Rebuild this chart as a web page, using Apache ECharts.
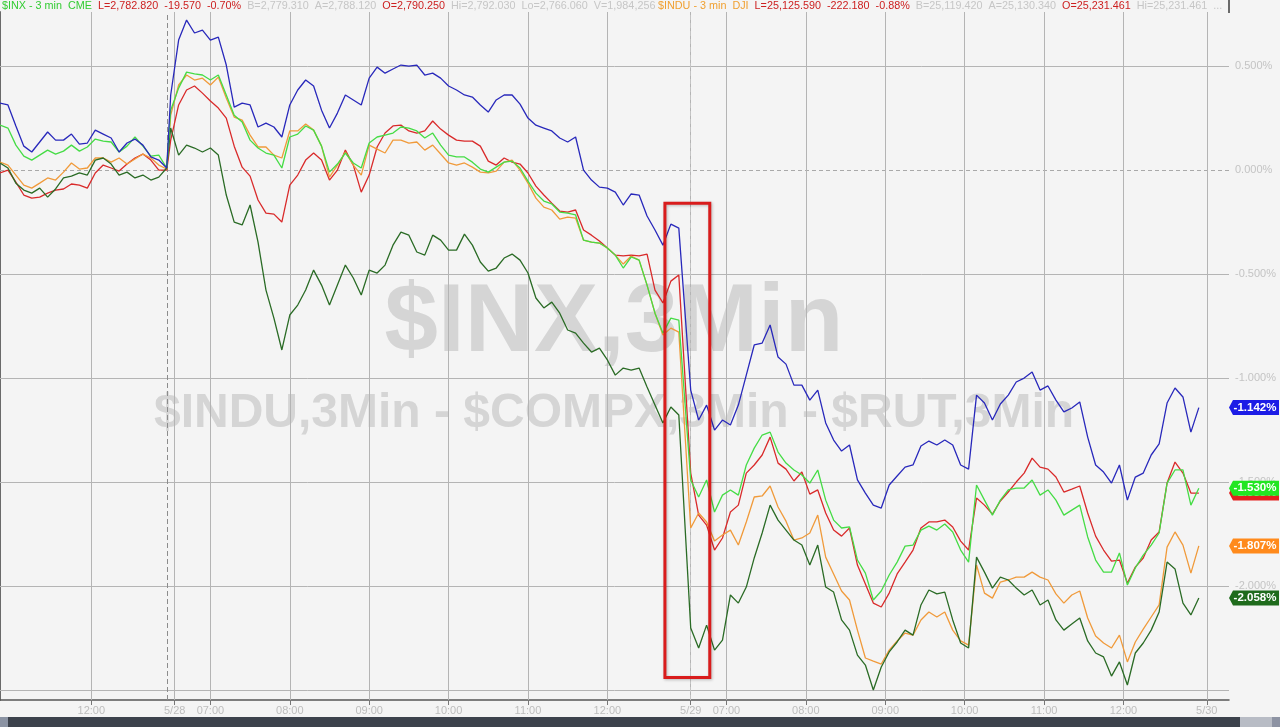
<!DOCTYPE html>
<html>
<head>
<meta charset="utf-8">
<script src="https://cdn.jsdelivr.net/npm/echarts@6/dist/echarts.min.js"></script>
<style>
html,body{margin:0;padding:0;background:#f4f4f4;overflow:hidden;}
#c{width:1280px;height:727px;}
</style>
</head>
<body>
<div id="c"></div>
<script>
// ---------- time structure (3-minute bars) ----------
// segment starts in bar numbers: prior-day tail, 5/28 session, 5/29 session
const segmentStartBars = [0, 43, 174];
const segmentSampleCounts = [22, 65, 65];
const sampleStepBars = 2;

// x-axis tick marks (bar numbers) and their labels
const tickBars   = [23, 44, 53, 73, 93, 113, 133, 153, 174, 183, 203, 223, 243, 263, 283, 304];
const tickLabels = ['12:00','5/28','07:00','08:00','09:00','10:00','11:00','12:00','5/29','07:00','08:00','09:00','10:00','11:00','12:00','5/30'];
const sessionOpenBars = [43, 174];

// y-axis ticks (percent)
const yTickValues  = [0.5, 0, -0.5, -1, -1.5, -2, -2.5];
const yLabelValues = [0.5, 0, -0.5, -1, -1.5, -2];

// ---------- series (% change) ----------
const compxPct = [ // blue
 0.322,0.313,0.212,0.115,0.087,0.135,0.183,0.144,0.144,0.173,0.125,0.130,0.192,0.173,0.154,0.087,0.130,0.149,0.120,0.063,0.048,0.010,
 0.361,0.625,0.721,0.659,0.673,0.625,0.639,0.505,0.303,0.322,0.313,0.207,0.226,0.207,0.159,0.313,0.385,0.433,0.404,0.288,0.202,0.274,0.361,0.337,0.313,0.442,0.495,0.466,0.486,0.505,0.500,0.505,0.457,0.466,0.442,0.404,0.385,0.361,0.351,0.313,0.279,0.337,0.361,0.361,0.317,0.250,0.216,0.202,0.188,0.154,0.135,0.159,0,-0.048,-0.082,-0.087,-0.106,-0.168,-0.115,-0.120,-0.221,-0.288,-0.361,-0.260,-0.279,
 -1.058,-1.202,-1.130,-1.250,-1.202,-1.226,-1.130,-0.986,-0.841,-0.832,-0.745,-0.899,-0.933,-1.034,-1.034,-1.106,-1.058,-1.216,-1.298,-1.351,-1.322,-1.490,-1.553,-1.611,-1.625,-1.514,-1.471,-1.428,-1.418,-1.327,-1.303,-1.322,-1.298,-1.322,-1.418,-1.438,-1.082,-1.120,-1.202,-1.125,-1.082,-1.019,-1.000,-0.971,-1.058,-1.038,-1.106,-1.163,-1.144,-1.115,-1.284,-1.418,-1.452,-1.505,-1.418,-1.587,-1.476,-1.457,-1.370,-1.317,-1.120,-1.048,-1.091,-1.260,-1.142
];
const spxPct = [ // light green
 0.216,0.202,0.120,0.067,0.048,0.072,0.096,0.077,0.091,0.120,0.091,0.111,0.149,0.139,0.135,0.087,0.115,0.159,0.115,0.067,0.072,0.010,
 0.288,0.394,0.471,0.462,0.457,0.433,0.457,0.361,0.264,0.231,0.144,0.106,0.082,0.072,0.010,0.159,0.173,0.212,0.192,0.115,-0.010,0.029,0.082,0.034,0.010,0.130,0.159,0.168,0.178,0.207,0.202,0.188,0.154,0.178,0.120,0.072,0.063,0.063,0.038,0.005,-0.010,0.014,0.038,0.043,0.010,-0.053,-0.111,-0.149,-0.163,-0.202,-0.207,-0.216,-0.337,-0.346,-0.351,-0.375,-0.409,-0.471,-0.418,-0.433,-0.553,-0.688,-0.784,-0.712,-0.721,
 -1.490,-1.572,-1.490,-1.644,-1.563,-1.538,-1.563,-1.418,-1.337,-1.274,-1.260,-1.356,-1.409,-1.442,-1.466,-1.505,-1.442,-1.587,-1.683,-1.721,-1.716,-1.875,-1.938,-2.067,-2.024,-1.947,-1.885,-1.808,-1.803,-1.731,-1.712,-1.731,-1.702,-1.740,-1.827,-1.885,-1.514,-1.587,-1.659,-1.587,-1.538,-1.529,-1.529,-1.490,-1.563,-1.538,-1.587,-1.659,-1.635,-1.611,-1.764,-1.875,-1.933,-1.933,-1.841,-1.995,-1.913,-1.851,-1.803,-1.745,-1.505,-1.442,-1.442,-1.611,-1.530
];
const induPct = [ // orange
 0.038,0.024,-0.024,-0.072,-0.087,-0.063,-0.038,-0.048,-0.010,0.034,0.005,0.010,0.058,0.058,0.038,0.058,0.029,0.053,0.077,0.058,0.024,0.005,
 0.264,0.409,0.457,0.433,0.442,0.409,0.447,0.346,0.255,0.240,0.168,0.111,0.111,0.072,0.058,0.188,0.188,0.221,0.192,0.115,-0.034,0.024,0.087,0.024,-0.024,0.120,0.101,0.082,0.144,0.144,0.130,0.135,0.096,0.120,0.077,0.034,0.024,0.034,0.014,-0.010,-0.014,-0.005,0.038,0.048,0,-0.063,-0.135,-0.178,-0.192,-0.236,-0.226,-0.231,-0.337,-0.346,-0.351,-0.375,-0.409,-0.452,-0.413,-0.433,-0.553,-0.688,-0.793,-0.760,-0.779,
 -1.721,-1.649,-1.692,-1.784,-1.755,-1.731,-1.803,-1.692,-1.572,-1.567,-1.519,-1.620,-1.688,-1.779,-1.769,-1.745,-1.659,-1.861,-1.942,-2.024,-2.067,-2.212,-2.346,-2.361,-2.375,-2.308,-2.264,-2.226,-2.236,-2.163,-2.125,-2.149,-2.125,-2.212,-2.264,-2.284,-1.899,-2.034,-2.058,-1.981,-1.971,-1.957,-1.957,-1.933,-1.957,-1.971,-2.038,-2.082,-2.043,-2.024,-2.154,-2.240,-2.274,-2.298,-2.236,-2.365,-2.269,-2.207,-2.149,-2.091,-1.813,-1.740,-1.803,-1.938,-1.807
];
const redPct = [ // red
 -0.014,0,-0.058,-0.120,-0.135,-0.130,-0.111,-0.096,-0.091,-0.067,-0.072,-0.087,-0.014,0.024,0.010,-0.005,0.029,0.058,0.077,0.048,0,0,
 0.144,0.313,0.385,0.404,0.370,0.332,0.298,0.250,0.115,0.014,-0.029,-0.144,-0.207,-0.212,-0.250,-0.072,-0.024,0.048,0.082,0.048,-0.048,0,0.096,0.024,-0.106,-0.024,0.111,0.178,0.212,0.216,0.188,0.178,0.188,0.236,0.197,0.168,0.144,0.139,0.139,0.115,0.043,0.024,0.058,0.038,0.029,-0.014,-0.077,-0.120,-0.159,-0.197,-0.202,-0.192,-0.288,-0.313,-0.341,-0.375,-0.409,-0.413,-0.409,-0.413,-0.404,-0.577,-0.639,-0.534,-0.505,
 -1.457,-1.659,-1.707,-1.827,-1.769,-1.644,-1.611,-1.457,-1.418,-1.370,-1.284,-1.409,-1.438,-1.495,-1.452,-1.558,-1.538,-1.649,-1.731,-1.760,-1.721,-1.899,-1.990,-2.082,-2.101,-2.034,-1.942,-1.885,-1.827,-1.721,-1.692,-1.692,-1.683,-1.716,-1.784,-1.827,-1.577,-1.611,-1.654,-1.591,-1.548,-1.500,-1.457,-1.385,-1.428,-1.438,-1.476,-1.548,-1.534,-1.519,-1.649,-1.760,-1.827,-1.880,-1.875,-1.986,-1.909,-1.865,-1.779,-1.740,-1.505,-1.404,-1.457,-1.553,-1.553
];
const rutPct = [ // dark green
 0.034,0.010,-0.063,-0.096,-0.111,-0.087,-0.130,-0.091,-0.038,-0.029,-0.014,-0.024,0.048,0.058,0.029,-0.024,-0.010,-0.038,-0.024,-0.048,-0.034,0.010,
 0.202,0.072,0.120,0.106,0.087,0.106,0.072,-0.120,-0.250,-0.264,-0.168,-0.346,-0.577,-0.712,-0.865,-0.697,-0.649,-0.577,-0.481,-0.553,-0.649,-0.553,-0.457,-0.519,-0.601,-0.481,-0.495,-0.457,-0.361,-0.298,-0.313,-0.394,-0.409,-0.313,-0.337,-0.385,-0.385,-0.308,-0.361,-0.442,-0.486,-0.471,-0.423,-0.404,-0.433,-0.495,-0.615,-0.663,-0.635,-0.688,-0.769,-0.784,-0.832,-0.875,-0.856,-0.913,-0.986,-0.952,-0.962,-0.952,-1.043,-1.130,-1.216,-1.139,-1.178,
 -2.202,-2.298,-2.188,-2.308,-2.260,-2.043,-2.082,-2.005,-1.865,-1.745,-1.611,-1.683,-1.731,-1.779,-1.803,-1.899,-1.803,-2.005,-2.029,-2.163,-2.212,-2.332,-2.380,-2.500,-2.389,-2.317,-2.269,-2.212,-2.236,-2.091,-2.019,-2.038,-2.029,-2.163,-2.274,-2.298,-1.861,-1.933,-2.010,-1.957,-1.971,-2.010,-2.043,-2.019,-2.091,-2.067,-2.163,-2.212,-2.183,-2.154,-2.264,-2.322,-2.341,-2.433,-2.365,-2.476,-2.322,-2.274,-2.212,-2.125,-1.885,-1.918,-2.082,-2.139,-2.058
];

// highlighted region (bar numbers and percent levels)
const highlightBars = [167.5, 178.8];
const highlightPct  = [-0.16, -2.44];

// header quote text: [text, colour key]
const headerLeft = [
 ['$INX - 3 min  CME  ', 'g'], ['L=2,782.820  -19.570  -0.70%  ', 'r'], ['B=2,779.310  A=2,788.120  ', 'k'],
 ['O=2,790.250  ', 'r'], ['Hi=2,792.030  Lo=2,766.060  V=1,984,256', 'k']
];
const headerRight = [
 ['$INDU - 3 min  DJI  ', 'o'], ['L=25,125.590  -222.180  -0.88%  ', 'r'], ['B=25,119.420  A=25,130.340  ', 'k'],
 ['O=25,231.461  ', 'r'], ['Hi=25,231.461  ...', 'k']
];
const watermark1 = '$INX,3Min';
const watermark2 = '$INDU,3Min - $COMPX,3Min - $RUT,3Min';

// ---------- build ----------
const sampleBars = [];
segmentStartBars.forEach((s, k) => {
  for (let j = 0; j < segmentSampleCounts[k]; j++) sampleBars.push(s + j * sampleStepBars);
});
const X_MAX = 309.6;

function toPairs(arr) { return arr.map((v, i) => [sampleBars[i], v]); }

const lineDefs = [
  { name: 'RED',    data: redPct,   color: '#d92a2a', tag: '#e3201e', z: 3 },
  { name: '$INDU',  data: induPct,  color: '#f09a3a', tag: '#ff8a1c', z: 4 },
  { name: '$RUT',   data: rutPct,   color: '#2a6b25', tag: '#1f6b1c', z: 5 },
  { name: '$INX',   data: spxPct,   color: '#45dc45', tag: '#22e622', z: 6 },
  { name: '$COMPX', data: compxPct, color: '#2828bb', tag: '#1c1ce6', z: 7 }
];

const FONT = '"Liberation Sans", Arial, sans-serif';
const HEADER_FONT = '10.8px ' + FONT;
const series = [];

// grid lines as mark lines
const gridLineData = [];
yTickValues.forEach(v => {
  if (v === 0) gridLineData.push({ yAxis: v, lineStyle: { type: [4, 3], color: '#a9a9a9', width: 1 } });
  else gridLineData.push({ yAxis: v });
});
tickBars.forEach(b => gridLineData.push({ xAxis: b }));
sessionOpenBars.forEach((b, k) => gridLineData.push({ xAxis: b - (k === 0 ? 0.8 : 0), lineStyle: { type: [5, 3], color: k === 0 ? '#8c8c8c' : '#c4c4c4', width: 1 } }));

series.push({
  type: 'line', data: [], z: 1, silent: true,
  markLine: {
    z: 1, silent: true, symbol: 'none', animation: false, label: { show: false },
    lineStyle: { color: '#b4b4b4', width: 1, type: 'solid' },
    emphasis: { disabled: true },
    data: gridLineData
  }
});

lineDefs.forEach(d => {
  const last = d.data[d.data.length - 1];
  series.push({
    name: d.name, type: 'line', data: toPairs(d.data), showSymbol: false, symbol: 'none',
    lineStyle: { color: d.color, width: 1.3 }, itemStyle: { color: d.color },
    z: d.z, animation: false, emphasis: { disabled: true },
    markPoint: {
      z: d.z + 10, silent: true, animation: false,
      symbol: 'path://M0,7.5L4,0H50V15H4Z', symbolSize: [50, 15], symbolOffset: [25, 0], symbolKeepAspect: false,
      itemStyle: { color: d.tag },
      label: { show: true, position: 'inside', color: '#ffffff', fontWeight: 'bold', fontSize: 11.5, fontFamily: FONT,
               offset: [1, 0], formatter: () => last.toFixed(3) + '%' },
      data: [{ coord: [X_MAX, last] }]
    }
  });
});

// highlight box
series.push({
  type: 'line', data: [], z: 9, silent: true,
  markArea: {
    z: 9, silent: true, animation: false,
    itemStyle: { color: 'rgba(0,0,0,0)', borderColor: '#d91c1c', borderWidth: 3,
                 shadowColor: 'rgba(0,0,0,0.25)', shadowBlur: 3, shadowOffsetX: 1, shadowOffsetY: 1 },
    data: [[{ coord: [highlightBars[0], highlightPct[0]] }, { coord: [highlightBars[1], highlightPct[1]] }]]
  }
});

const colorMap = { g: '#33cc33', r: '#cc1f1f', k: '#c6c6c6', o: '#f0a030' };
function richText(items) {
  const rich = {};
  let text = '';
  items.forEach((it, i) => {
    rich['s' + i] = { fill: colorMap[it[1]], font: HEADER_FONT };
    text += '{s' + i + '|' + it[0] + '}';
  });
  return { text, rich };
}
const hl = richText(headerLeft), hr = richText(headerRight);

const option = {
  backgroundColor: '#f4f4f4',
  animation: false,
  grid: { left: 0, right: 51, top: 12, bottom: 27, containLabel: false },
  xAxis: {
    type: 'value', min: 0, max: X_MAX,
    axisLine: { show: true, onZero: false, lineStyle: { color: '#555', width: 1.5 } },
    axisTick: { show: true, customValues: tickBars, length: 5, lineStyle: { color: '#777' } },
    axisLabel: { show: true, customValues: tickBars, color: '#bdbdbd', fontSize: 11, fontFamily: FONT, margin: 5,
                 formatter: v => { const i = tickBars.indexOf(v); return i >= 0 ? tickLabels[i] : ''; } },
    splitLine: { show: false }
  },
  yAxis: {
    type: 'value', position: 'right', min: -2.548, max: 0.76,
    axisLine: { show: true, lineStyle: { color: '#6a6a6a', width: 2 } },
    axisTick: { show: true, customValues: yTickValues, length: 4, lineStyle: { color: '#888' } },
    axisLabel: { show: true, customValues: yLabelValues, color: '#c4c4c4', fontSize: 11, fontFamily: FONT, margin: 6,
                 formatter: v => v.toFixed(3) + '%' },
    splitLine: { show: false }
  },
  graphic: [
    { type: 'text', z: 0, x: 614, y: 325, silent: true,
      style: { text: watermark1, fill: '#d5d5d5', font: 'bold 96px ' + FONT, textAlign: 'center', textVerticalAlign: 'middle' } },
    { type: 'text', z: 0, x: 614, y: 414, silent: true,
      style: { text: watermark2, fill: '#d5d5d5', font: 'bold 48px ' + FONT, textAlign: 'center', textVerticalAlign: 'middle' } },
    { type: 'text', z: 10, x: 2, y: 1, silent: true, style: { text: hl.text, rich: hl.rich, font: HEADER_FONT } },
    { type: 'text', z: 10, x: 658, y: 1, silent: true, style: { text: hr.text, rich: hr.rich, font: HEADER_FONT } },
    { type: 'line', z: 10, silent: true, shape: { x1: 1229, y1: 0, x2: 1229, y2: 13 }, style: { stroke: '#6a6a6a', lineWidth: 2 } },
    { type: 'rect', z: 10, silent: true, shape: { x: 0, y: 717, width: 1280, height: 10 }, style: { fill: '#3c424c' } },
    { type: 'rect', z: 11, silent: true, shape: { x: 0, y: 717, width: 8, height: 10 }, style: { fill: '#8b93a3' } },
    { type: 'rect', z: 11, silent: true, shape: { x: 1240, y: 717, width: 32, height: 10 }, style: { fill: '#b8bcc5' } },
    { type: 'rect', z: 11, silent: true, shape: { x: 1272, y: 717, width: 8, height: 10 }, style: { fill: '#8d93a3' } }
  ],
  series
};

const chart = echarts.init(document.getElementById('c'), null, { renderer: 'canvas', width: 1280, height: 727 });
chart.setOption(option);
</script>
</body>
</html>
